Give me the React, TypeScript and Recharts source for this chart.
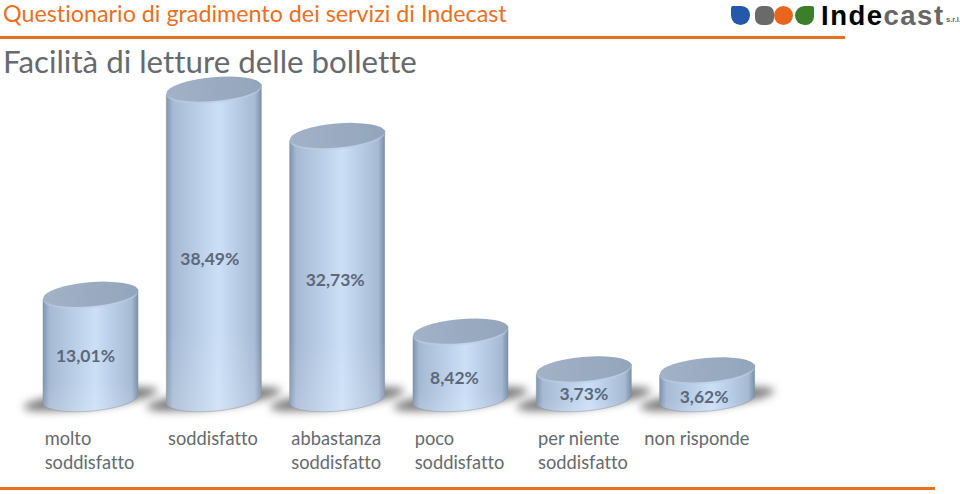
import { BarChart, Bar, XAxis, YAxis, LabelList } from "recharts";

const categories = ["molto soddisfatto", "soddisfatto", "abbastanza soddisfatto", "poco soddisfatto", "per niente soddisfatto", "non risponde"];
const percentages = [13.01, 38.49, 32.73, 8.42, 3.73, 3.62];

const data = categories.map((name, i) => ({ name, value: percentages[i] }));

const FONT = "Lato, 'Open Sans', sans-serif";
const ORANGE = "#e8701f";
const GREY = "#666a6e";

// hand nudges so the labels sit where they do in the slide
const labelDx = [-5, -4, -2, -6, 0, -3];
const labelDy = [15, 21, 19, 19, 16, 19];

function Cylinder({ x, y, width, height }: any) {
  const rx = width / 2;
  const ry = 12;
  const cx = x + rx;
  const bottom = y + height;
  const tilt = 5;
  const rot = -5;
  const body = `M${x},${y + tilt} L${x},${bottom + tilt} A${rx},${ry} ${rot} 0 0 ${x + width},${bottom - tilt} L${x + width},${y - tilt} Z`;
  return (
    <g>
      <ellipse cx={cx} cy={bottom} rx={rx + 20} ry={9} fill="#4a4a4a" opacity={0.72} filter="url(#floorBlur)" transform={`rotate(-7 ${cx} ${bottom})`} />
      <path d={body} fill="url(#cylBody)" stroke="#82919f" strokeWidth={0.5} />
      <path d={body} fill="url(#cylFade)" />
      <ellipse cx={cx} cy={y + 2} rx={rx} ry={ry} fill="#bccde3" opacity={0.6} transform={`rotate(${rot} ${cx} ${y + 2})`} />
      <ellipse cx={cx} cy={y} rx={rx} ry={ry} fill="url(#cylTop)" transform={`rotate(${rot} ${cx} ${y})`} />
    </g>
  );
}

function ValueLabel({ x, y, width, height, value, index }: any) {
  return (
    <text
      x={x + width / 2 + labelDx[index]}
      y={y + height / 2 + labelDy[index]}
      textAnchor="middle"
      fontFamily={FONT}
      fontSize={17.5}
      fontWeight={700}
      fill="#5d6878"
    >
      {Number(value).toFixed(2).replace(".", ",") + "%"}
    </text>
  );
}

function CategoryTick({ x, payload }: any) {
  const value: string = payload.value;
  const single = value === "non risponde";
  const cut = value.lastIndexOf(" ");
  const lines = single || cut < 0 ? [value] : [value.slice(0, cut), value.slice(cut + 1)];
  const left = single ? x - 63 : x - 46;
  return (
    <text fontFamily={FONT} fontSize={18.3} fill={GREY} style={{ fontVariantLigatures: "none" }}>
      {lines.map((line, i) => (
        <tspan key={line} x={left} y={445 + i * 24}>
          {line}
        </tspan>
      ))}
    </text>
  );
}

const leaf = (left: number, color: string, radius: string) => (
  <div style={{ position: "absolute", left, top: 6, width: 19, height: 19, background: color, borderRadius: radius }} />
);

export default function App() {
  return (
    <div style={{ position: "absolute", left: 0, top: 0, width: 960, height: 494, background: "#fff", overflow: "hidden", fontFamily: FONT, fontVariantLigatures: "none" }}>
      <div style={{ position: "absolute", left: 3, top: 1, fontSize: 23.3, lineHeight: "24px", color: ORANGE, whiteSpace: "nowrap" }}>
        Questionario di gradimento dei servizi di Indecast
      </div>
      <div style={{ position: "absolute", left: 0, top: 36, width: 845, height: 3, background: ORANGE }} />
      <div style={{ position: "absolute", left: 3, top: 41, fontSize: 31.3, lineHeight: "40px", color: GREY, whiteSpace: "nowrap" }}>
        Facilità di letture delle bollette
      </div>

      {leaf(731, "#2359a8", "2px 9px 10px 10px")}
      {leaf(755, "#6a6a6a", "7px")}
      {leaf(774, "#e9641c", "50%")}
      {leaf(795, "#3c7f2b", "10px 2px 9px 10px")}
      <div style={{ position: "absolute", left: 821, top: 0, fontFamily: "'Liberation Sans', sans-serif", fontWeight: 700, fontSize: 27.5, letterSpacing: 1.5, lineHeight: "32px", whiteSpace: "nowrap", color: "#000" }}>
        Inde<span style={{ color: "#666" }}>cast</span>
      </div>
      <div style={{ position: "absolute", left: 946, top: 15, fontFamily: "'Liberation Sans', sans-serif", fontWeight: 700, fontSize: 7.5, color: "#666", whiteSpace: "nowrap" }}>
        s.r.l.
      </div>

      <div style={{ position: "absolute", left: 0, top: 0 }}>
        <BarChart width={960} height={494} data={data} margin={{ top: 77, right: 191, bottom: 0, left: 29 }} barSize={95}>
          <defs>
            <linearGradient id="cylBody" x1="0" y1="0" x2="1" y2="0">
              <stop offset="0" stopColor="#8094ae" />
              <stop offset="0.07" stopColor="#a6bad4" />
              <stop offset="0.55" stopColor="#cbdff7" />
              <stop offset="0.93" stopColor="#a6bad4" />
              <stop offset="1" stopColor="#7a8ea8" />
            </linearGradient>
            <linearGradient id="cylFade" x1="0" y1="0" x2="0" y2="1">
              <stop offset="0.75" stopColor="#ffffff" stopOpacity={0} />
              <stop offset="1" stopColor="#ffffff" stopOpacity={0.15} />
            </linearGradient>
            <linearGradient id="cylTop" x1="0" y1="0" x2="1" y2="0">
              <stop offset="0" stopColor="#a2b2c7" />
              <stop offset="1" stopColor="#93a5bc" />
            </linearGradient>
            <filter id="floorBlur" x="-30%" y="-100%" width="160%" height="300%">
              <feGaussianBlur stdDeviation="4.5" />
            </filter>
          </defs>
          <XAxis dataKey="name" axisLine={false} tickLine={false} height={95} interval={0} tick={<CategoryTick />} />
          <YAxis hide domain={[0, 40]} />
          <Bar dataKey="value" isAnimationActive={false} shape={<Cylinder />}>
            <LabelList dataKey="value" content={<ValueLabel />} />
          </Bar>
        </BarChart>
      </div>

      <div style={{ position: "absolute", left: 0, top: 487, width: 935, height: 3, background: ORANGE }} />
    </div>
  );
}
